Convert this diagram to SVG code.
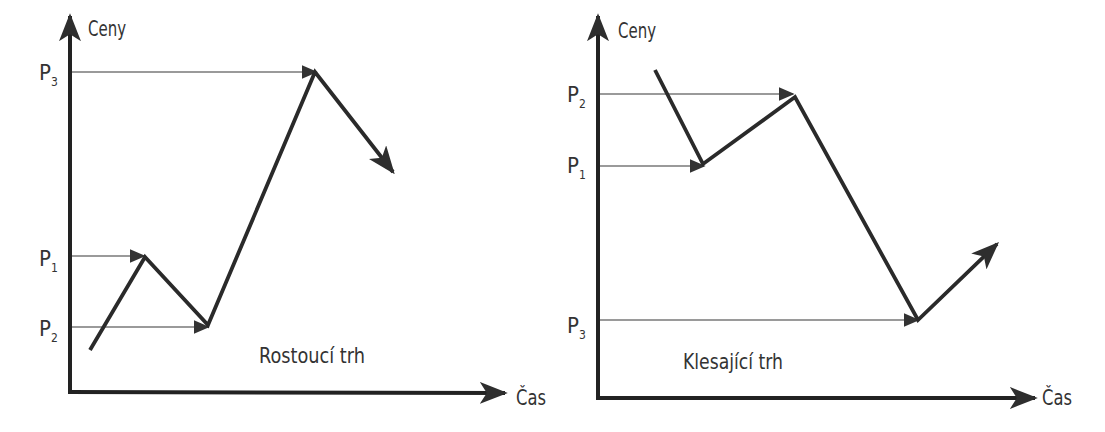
<svg xmlns="http://www.w3.org/2000/svg" width="1105" height="432" viewBox="0 0 1105 432">
<defs>
<marker id="big" viewBox="0 0 10 10" refX="9" refY="5" markerWidth="28" markerHeight="22" markerUnits="userSpaceOnUse" orient="auto" preserveAspectRatio="none">
<path d="M0,0 L10,5 L0,10 L2.5,5 z" fill="#2e2e2e"/>
</marker>
<marker id="small" viewBox="0 0 10 10" refX="9" refY="5" markerWidth="16" markerHeight="14" markerUnits="userSpaceOnUse" orient="auto" preserveAspectRatio="none">
<path d="M0,0 L10,5 L0,10 z" fill="#333"/>
</marker>
</defs>
<style>
.axis{stroke:#222;stroke-width:4;fill:none}
.guide{stroke:#9a9a9a;stroke-width:2;fill:none}
.trend{stroke:#2a2a2a;stroke-width:3.8;fill:none;stroke-linejoin:miter}
text{font-family:"DejaVu Sans Condensed","Liberation Sans Narrow","Liberation Sans",sans-serif;fill:#333}
.lbl{font-size:22px}
.sub{font-size:12px}
.title{font-size:22px}
</style>
<g id="left-chart">
<g id="left-axes">
<line class="axis" x1="70" y1="392" x2="70" y2="16" marker-end="url(#big)"/>
<line class="axis" x1="68" y1="392" x2="505" y2="393" marker-end="url(#big)"/>
<text class="lbl" x="88" y="36" textLength="38" lengthAdjust="spacingAndGlyphs">Ceny</text>
<text class="lbl" x="516" y="405" textLength="30" lengthAdjust="spacingAndGlyphs">Čas</text>
</g>
<g id="left-labels">
<text class="lbl" x="39" y="80">P<tspan class="sub" dy="6">3</tspan></text>
<text class="lbl" x="39" y="266">P<tspan class="sub" dy="6">1</tspan></text>
<text class="lbl" x="39" y="336">P<tspan class="sub" dy="6">2</tspan></text>
<text class="title" x="259" y="363" textLength="106" lengthAdjust="spacingAndGlyphs">Rostoucí trh</text>
</g>
<g id="left-connectors">
<line class="guide" x1="72" y1="72" x2="316" y2="72" marker-end="url(#small)"/>
<line class="guide" x1="72" y1="256" x2="144" y2="256" marker-end="url(#small)"/>
<line class="guide" x1="72" y1="327" x2="208" y2="327" marker-end="url(#small)"/>
<polyline class="trend" points="90,350 145,257 208,325 315,72 393,172" marker-end="url(#big)"/>
</g>
</g>
<g id="right-chart">
<g id="right-axes">
<line class="axis" x1="598" y1="399" x2="598" y2="16" marker-end="url(#big)"/>
<line class="axis" x1="596" y1="398" x2="1035" y2="398" marker-end="url(#big)"/>
<text class="lbl" x="618" y="38" textLength="38" lengthAdjust="spacingAndGlyphs">Ceny</text>
<text class="lbl" x="1042" y="405" textLength="30" lengthAdjust="spacingAndGlyphs">Čas</text>
</g>
<g id="right-labels">
<text class="lbl" x="567" y="102">P<tspan class="sub" dy="6">2</tspan></text>
<text class="lbl" x="567" y="173">P<tspan class="sub" dy="6">1</tspan></text>
<text class="lbl" x="567" y="333">P<tspan class="sub" dy="6">3</tspan></text>
<text class="title" x="683" y="369" textLength="100" lengthAdjust="spacingAndGlyphs">Klesající trh</text>
</g>
<g id="right-connectors">
<line class="guide" x1="600" y1="94" x2="793" y2="94" marker-end="url(#small)"/>
<line class="guide" x1="600" y1="166" x2="704" y2="166" marker-end="url(#small)"/>
<line class="guide" x1="600" y1="320" x2="918" y2="320" marker-end="url(#small)"/>
<polyline class="trend" points="655,70 703,164 795,97 918,320 997,244" marker-end="url(#big)"/>
</g>
</g>
</svg>
